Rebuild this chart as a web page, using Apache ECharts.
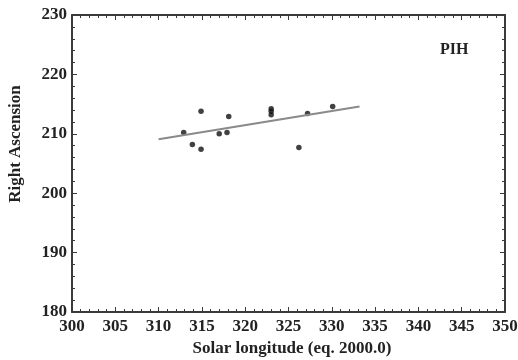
<!DOCTYPE html>
<html>
<head>
<meta charset="utf-8">
<script src="https://cdn.jsdelivr.net/npm/echarts@6/dist/echarts.min.js"></script>
<style>html,body{margin:0;padding:0;background:#fff}#c{width:518px;height:360px}</style>
</head>
<body>
<div id="c"></div>
<script>
const solarLongitude = [312.9, 313.9, 314.9, 314.9, 317.0, 317.9, 318.1, 323.0, 323.0, 323.0, 326.2, 327.2, 330.1];
const rightAscension = [210.2, 208.2, 213.8, 207.4, 210.0, 210.2, 212.9, 214.2, 213.8, 213.2, 207.7, 213.4, 214.6];
const fitLongitude = [310, 333.2];
const fitRA = [209.1, 214.6];
const xTicks = [300, 305, 310, 315, 320, 325, 330, 335, 340, 345, 350];
const yTicks = [180, 190, 200, 210, 220, 230];
const label = 'PIH';
const xTitle = 'Solar longitude (eq. 2000.0)';
const yTitle = 'Right Ascension';

const font = 'Liberation Serif';
const axisColor = '#3a3a3a';
function axisBase(show) {
  return {
    axisLine: {show: true, onZero: false, lineStyle: {color: axisColor, width: 2}},
    axisTick: {show: true, inside: true, length: 5, lineStyle: {color: axisColor, width: 1}},
    minorTick: {show: true, splitNumber: 5, length: 3, lineStyle: {color: axisColor, width: 1}},
    splitLine: {show: false},
    axisLabel: {show: show}
  };
}
const labelStyle = {color: '#222', fontFamily: font, fontWeight: 'bold', fontSize: 17};
const chart = echarts.init(document.getElementById('c'));
chart.setOption({
  animation: false,
  backgroundColor: '#fff',
  grid: {left: 72, right: 13, top: 15, bottom: 48, containLabel: false, outerBoundsMode: 'none'},
  xAxis: [
    Object.assign(axisBase(true), {type: 'value', min: xTicks[0], max: xTicks[xTicks.length-1], interval: 5, position: 'bottom',
      axisLabel: Object.assign({show: true, margin: 6}, labelStyle)}),
    Object.assign(axisBase(false), {type: 'value', min: xTicks[0], max: xTicks[xTicks.length-1], interval: 5, position: 'top'})
  ],
  yAxis: [
    Object.assign(axisBase(true), {type: 'value', min: yTicks[0], max: yTicks[yTicks.length-1], interval: 10, position: 'left',
      axisLabel: Object.assign({show: true, margin: 5}, labelStyle)}),
    Object.assign(axisBase(false), {type: 'value', min: yTicks[0], max: yTicks[yTicks.length-1], interval: 10, position: 'right'})
  ],
  graphic: [
    {type: 'text', left: 440, top: 42, style: {text: label, fontFamily: font, fontWeight: 'bold', fontSize: 16, fill: '#222'}},
    {type: 'text', x: 292, y: 349,
      style: {text: xTitle, fontFamily: font, fontWeight: 'bold', fontSize: 17, fill: '#222', align: 'center', verticalAlign: 'middle'}},
    {type: 'text', x: 16, y: 144, rotation: Math.PI / 2,
      style: {text: yTitle, fontFamily: font, fontWeight: 'bold', fontSize: 17, fill: '#222', align: 'center', verticalAlign: 'middle'}}
  ],
  series: [
    {type: 'line', data: fitLongitude.map((x, i) => [x, fitRA[i]]), symbol: 'none',
      lineStyle: {color: '#8a8a8a', width: 2}, silent: true},
    {type: 'scatter', data: solarLongitude.map((x, i) => [x, rightAscension[i]]), symbolSize: 5.5,
      itemStyle: {color: '#111'}}
  ]
});
</script>
</body>
</html>
